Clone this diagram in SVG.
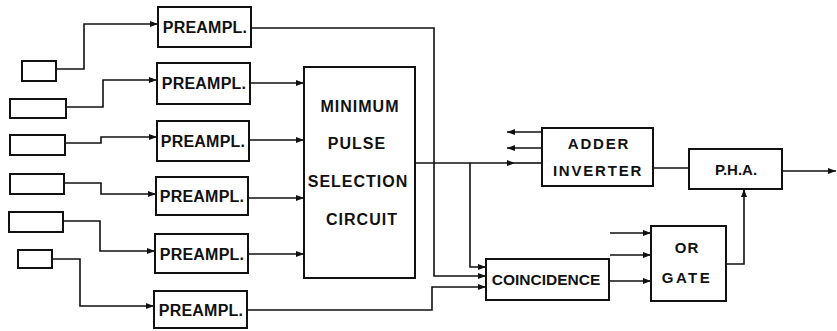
<svg xmlns="http://www.w3.org/2000/svg" width="837" height="331" viewBox="0 0 837 331">
<style>
.box{fill:#fff;stroke:#111;stroke-width:2}
.ln{fill:none;stroke:#111;stroke-width:1.6}
.t{font-family:"Liberation Sans",Arial,sans-serif;font-weight:bold;fill:#111;text-anchor:middle}
.pa{font-size:16px;letter-spacing:0.2px}
.mp{font-size:16px;letter-spacing:1px}
.ai{font-size:15px;letter-spacing:1.8px}
</style>
<defs>
<marker id="arr" markerUnits="userSpaceOnUse" markerWidth="8" markerHeight="6" refX="8" refY="3" orient="auto">
<path d="M0,0 L8,3 L0,6 z" fill="#111"/>
</marker>
</defs>
<rect width="837" height="331" fill="#fff"/>
<g id="connectors">
<path class="ln" d="M56,69 H84 V24 H158" marker-end="url(#arr)"/>
<path class="ln" d="M66,107 H103 V80 H157" marker-end="url(#arr)"/>
<path class="ln" d="M65,143 H101 V137 H157" marker-end="url(#arr)"/>
<path class="ln" d="M64,183 H101 V194 H156" marker-end="url(#arr)"/>
<path class="ln" d="M63,221 H100 V251 H155" marker-end="url(#arr)"/>
<path class="ln" d="M52,259 H80 V306 H154" marker-end="url(#arr)"/>
<path class="ln" d="M251,28 H434 V276 H486" marker-end="url(#arr)"/>
<path class="ln" d="M250,83 H304" marker-end="url(#arr)"/>
<path class="ln" d="M249,140 H304" marker-end="url(#arr)"/>
<path class="ln" d="M248,198 H304" marker-end="url(#arr)"/>
<path class="ln" d="M248,254 H304" marker-end="url(#arr)"/>
<path class="ln" d="M247,310 H432 V287 H486" marker-end="url(#arr)"/>
<path class="ln" d="M415,163 H515" marker-end="url(#arr)"/>
<path class="ln" d="M515,163 H542"/>
<path class="ln" d="M470,163 V267 H486" marker-end="url(#arr)"/>
<path class="ln" d="M542,132 H507" marker-end="url(#arr)"/>
<path class="ln" d="M542,148 H507" marker-end="url(#arr)"/>
<path class="ln" d="M653,168 H689"/>
<path class="ln" d="M782,171 H836" marker-end="url(#arr)"/>
<path class="ln" d="M610,233 H651" marker-end="url(#arr)"/>
<path class="ln" d="M610,255 H651" marker-end="url(#arr)"/>
<path class="ln" d="M609,281 H651" marker-end="url(#arr)"/>
<path class="ln" d="M726,264 H744 V189" marker-end="url(#arr)"/>
</g>
<g id="det1"><rect class="box" x="22" y="61" width="34" height="20"/></g>
<g id="det2"><rect class="box" x="10" y="99" width="56" height="19"/></g>
<g id="det3"><rect class="box" x="10" y="135" width="55" height="20"/></g>
<g id="det4"><rect class="box" x="10" y="174" width="54" height="20"/></g>
<g id="det5"><rect class="box" x="9" y="212" width="54" height="20"/></g>
<g id="det6"><rect class="box" x="18" y="250" width="34" height="18"/></g>
<g id="preampl1"><rect class="box" x="158" y="7" width="93" height="40"/><text class="t pa" x="205" y="33">PREAMPL.</text></g>
<g id="preampl2"><rect class="box" x="157" y="63" width="93" height="41"/><text class="t pa" x="204" y="89">PREAMPL.</text></g>
<g id="preampl3"><rect class="box" x="157" y="121" width="92" height="40"/><text class="t pa" x="203" y="147">PREAMPL.</text></g>
<g id="preampl4"><rect class="box" x="156" y="177" width="92" height="38"/><text class="t pa" x="202" y="202">PREAMPL.</text></g>
<g id="preampl5"><rect class="box" x="155" y="234" width="93" height="39"/><text class="t pa" x="202" y="260">PREAMPL.</text></g>
<g id="preampl6"><rect class="box" x="154" y="291" width="93" height="37"/><text class="t pa" x="201" y="316">PREAMPL.</text></g>
<g id="mpsc"><rect class="box" x="304" y="67" width="111" height="211"/>
<text class="t mp" x="360" y="112">MINIMUM</text>
<text class="t mp" x="357" y="149">PULSE</text>
<text class="t mp" x="358" y="187">SELECTION</text>
<text class="t mp" x="362" y="225">CIRCUIT</text></g>
<g id="adder"><rect class="box" x="542" y="128" width="111" height="58"/>
<text class="t ai" x="599" y="149">ADDER</text>
<text class="t ai" x="598" y="176">INVERTER</text></g>
<g id="pha"><rect class="box" x="689" y="149" width="93" height="40"/><text class="t" font-size="15" x="736" y="175">P.H.A.</text></g>
<g id="coincidence"><rect class="box" x="486" y="259" width="123" height="41"/><text class="t" font-size="15.5" x="546" y="285">COINCIDENCE</text></g>
<g id="orgate"><rect class="box" x="651" y="226" width="75" height="75"/>
<text class="t" font-size="15" letter-spacing="1" x="687" y="253">OR</text>
<text class="t" font-size="15" letter-spacing="2.5" x="687" y="283">GATE</text></g>
</svg>
